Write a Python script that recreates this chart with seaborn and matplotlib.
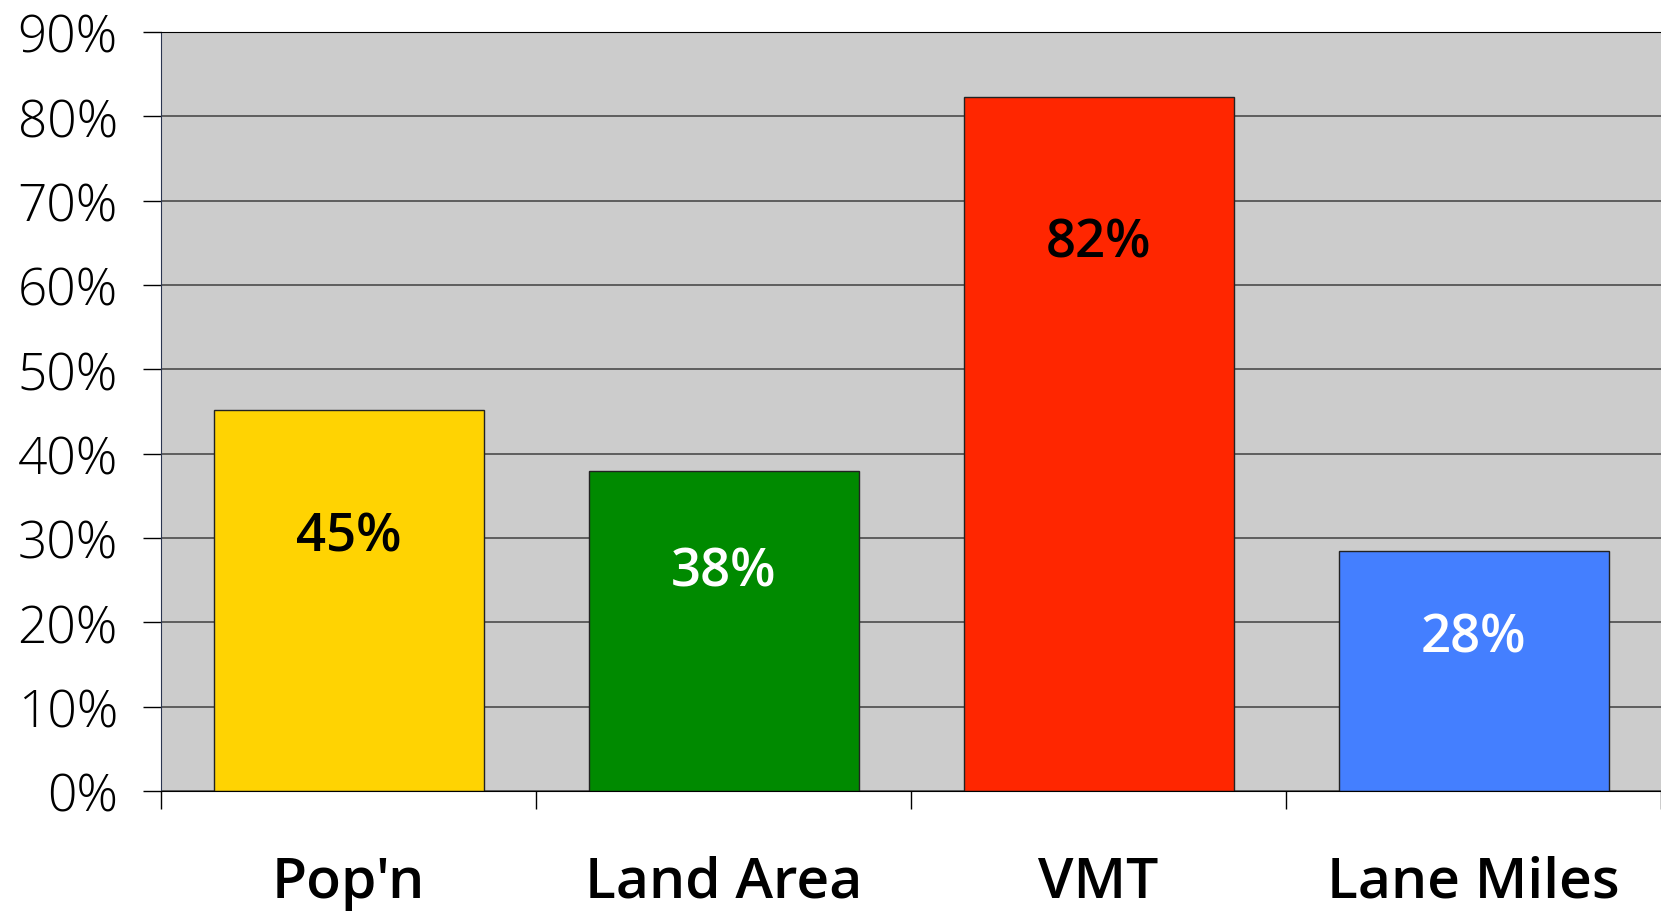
import matplotlib
matplotlib.use('Agg')
import matplotlib.pyplot as plt
import pandas as pd
import seaborn as sns
from matplotlib.ticker import FixedLocator, PercentFormatter

# values
categories = ["Pop'n", 'Land Area', 'VMT', 'Lane Miles']
shares = [45.2, 37.9, 82.3, 28.4]
label_heights = [30.1, 26.0, 65.0, 18.1]
label_colors = ['black', 'white', 'black', 'white']
bar_colors = ['#FFD302', '#008A00', '#FF2600', '#447FFF']

sns.set_style('white')
plt.rcParams['font.family'] = ['Open Sans', 'DejaVu Sans']
plt.rcParams['text.color'] = 'black'
plt.rcParams['xtick.color'] = 'black'
plt.rcParams['ytick.color'] = 'black'


def main():
    df = pd.DataFrame({'category': categories, 'share': shares})

    fig = plt.figure(figsize=(16.61, 9.12), dpi=100)
    ax = fig.add_axes([161 / 1661, 1 - 792 / 912, 1 - 161 / 1661, (792 - 33) / 912])
    ax.set_facecolor('#CCCCCC')

    sns.barplot(data=df, x='category', y='share', hue='category', palette=bar_colors,
                saturation=1, width=0.72, edgecolor='#222222', linewidth=1,
                legend=False, ax=ax)

    # 値ラベル
    for i, (txt, h, c) in enumerate(zip(shares, label_heights, label_colors)):
        ax.text(i, h, f'{txt:.0f}%', ha='center', va='center', color=c,
                fontsize=38, fontweight='semibold')

    ax.set_ylim(0, 90)
    ax.set_xlim(-0.5, len(categories) - 0.5)
    ax.set_yticks(range(0, 91, 10))
    ax.yaxis.set_major_formatter(PercentFormatter(decimals=0))
    ax.yaxis.grid(True, color='#555555', linewidth=1.3)
    ax.set_axisbelow(True)

    ax.xaxis.set_minor_locator(FixedLocator([i - 0.5 for i in range(len(categories) + 1)]))
    ax.tick_params(axis='x', which='major', length=0, pad=46, labelsize=41)
    ax.tick_params(axis='x', which='minor', length=13, width=1, color='black', direction='out', bottom=True)
    ax.tick_params(axis='y', length=13, width=1, color='black', direction='out', left=True,
                   pad=18, labelsize=37)
    for lbl in ax.get_xticklabels():
        lbl.set_fontweight('semibold')
    for lbl in ax.get_yticklabels():
        lbl.set_fontweight('light')

    ax.set_xlabel('')
    ax.set_ylabel('')
    ax.spines['right'].set_visible(False)
    ax.spines['left'].set_color('#2a3550')
    ax.spines['bottom'].set_color('black')
    ax.spines['top'].set_color('black')

    fig.savefig('out.png', dpi=100)


if __name__ == '__main__':
    main()
